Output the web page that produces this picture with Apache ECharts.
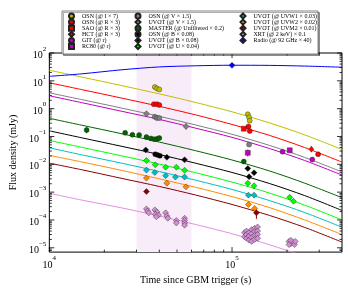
<!DOCTYPE html>
<html><head><meta charset="utf-8">
<script src="https://cdn.jsdelivr.net/npm/echarts@6/dist/echarts.min.js"></script>
<style>html,body{margin:0;padding:0;background:#fff}#c{width:348px;height:290px}</style>
</head><body><div id="c"></div>
<script>
const FONT = '"Liberation Serif", "DejaVu Serif", serif';

// ---- model curves (time grid in s, flux in mJy) ----
const modelTime = [10000, 15000, 25000, 40000, 63000, 100000, 160000, 250000, 400000];
const modelI      = [24, 13.7, 6.7, 3.4, 1.68, 0.77, 0.31, 0.114, 0.034];
const modelR      = [8.5, 4.86, 2.38, 1.21, 0.60, 0.27, 0.11, 0.040, 0.012];
const modelV      = [3.7, 2.12, 1.04, 0.53, 0.26, 0.12, 0.048, 0.0177, 0.0053];
const modelr      = [2.9, 1.65, 0.80, 0.41, 0.20, 0.093, 0.037, 0.0137, 0.0041];
const modelUnf    = [0.45, 0.255, 0.125, 0.063, 0.031, 0.0143, 0.0058, 0.0021, 0.00063];
const modelB      = [0.16, 0.090, 0.044, 0.0225, 0.011, 0.0051, 0.00205, 0.00075, 0.00022];
const modelU      = [0.072, 0.041, 0.020, 0.0102, 0.0050, 0.0023, 0.00093, 0.00034, 0.0001];
const modelUVW1   = [0.039, 0.022, 0.0109, 0.0055, 0.0027, 0.00125, 0.0005, 0.000185, 0.000055];
const modelUVW2   = [0.021, 0.0122, 0.006, 0.003, 0.0015, 0.00069, 0.00028, 0.0001, 0.00003];
const modelUVM2   = [0.011, 0.0064, 0.0031, 0.0016, 0.00079, 0.00036, 0.000146, 0.000054, 0.000016];
const modelXRT    = [9.1e-4, 5.2e-4, 2.7e-4, 1.38e-4, 6.9e-5, 3.2e-5, 1.29e-5, 4.9e-6, 1.66e-6];
const modelRadio  = [14.5, 17.8, 25, 31.6, 34.7, 36.3, 35.9, 33.9, 30.9];

// ---- observed points [time s, flux mJy] ----
const osnI   = [[37800,6.0],[38800,5.3],[40000,4.9],[122000,0.63],[124000,0.49],[125000,0.37]];
const osnR   = [[37300,1.45],[38800,1.45],[40000,1.35],[123000,0.23],[125000,0.156],[296000,0.023]];
const saoR   = [[116000,0.19]];
const hctR   = [[272000,0.035]];
const gitr   = [[189000,0.0285],[275000,0.0148]];
const rc80r  = [[122000,0.026],[207000,0.032]];
const osnV   = [[37800,0.51],[38800,0.46],[40000,0.46],[124000,0.051]];
const uvotV  = [[34000,0.66],[56000,0.23]];
const master = [[16000,0.17],[26000,0.135],[28500,0.115],[31000,0.113],[34000,0.095],[36000,0.085],[37500,0.08],[39000,0.083],[40000,0.088],[116000,0.0126]];
const osnB   = [[38000,0.023],[39200,0.0214],[40300,0.0202]];
const uvotB  = [[33700,0.033],[44000,0.0178],[55000,0.0145],[122000,0.0071],[132000,0.005],[124000,0.0036]];
const uvotU  = [[34000,0.0136],[38000,0.0096],[43300,0.0079],[49600,0.0079],[55000,0.0061],[122000,0.0021],[132000,0.0017],[207000,0.00065],[217000,0.00047]];
const uvw1   = [[34000,0.0062],[37800,0.0051],[43300,0.0039],[49000,0.0035],[55000,0.0035],[123000,0.00078],[132000,0.00078]];
const uvw2   = [[34000,0.0032],[44000,0.0021],[56000,0.00155],[123000,0.00036],[133000,0.00026]];
const uvm2   = [[34000,0.00105],[136000,0.00018]];
const xrt    = [[34000,2.5e-4],[34500,2.1e-4],[35000,1.8e-4],
  [37800,2.3e-4],[38800,1.95e-4],[38000,1.6e-4],[39600,1.5e-4],[38500,1.3e-4],
  [43300,1.8e-4],[44000,1.4e-4],[44500,1.15e-4],
  [49600,9.5e-5],[49600,7.8e-5],
  [55000,1.15e-4],[55000,9.5e-5],[55000,7.8e-5],[55000,6.5e-5],
  [117000,3.5e-5],[117000,2.5e-5],[120000,4e-5],[120000,3e-5],[120000,2.2e-5],
  [124000,3.5e-5],[124000,2.6e-5],[124000,1.9e-5],[128000,4.5e-5],[128000,3.2e-5],
  [128000,2.3e-5],[128000,1.7e-5],[133000,5e-5],[133000,3.8e-5],[133000,2.8e-5],
  [133000,2e-5],[138000,5.6e-5],[138000,4e-5],[138000,3e-5],[138000,2.2e-5],
  [205000,1.7e-5],[210000,1.4e-5],[215000,1.6e-5],[220000,1.3e-5],[210000,1.85e-5],[222000,1.7e-5],[205000,1.3e-5]];
const radio  = [[100000,36]];

// error bars [time, low, high, color]
const errBars = [[16000,0.13,0.22,'#006400'],[56000,0.18,0.30,'#808080'],[124000,0.042,0.064,'#808080'],
  [122000,0.019,0.034,'#bf00bf'],[136000,0.00011,0.00024,'#8b0000'],[272000,0.029,0.043,'#ff0000'],
  [275000,0.012,0.018,'#bf00bf'],[116000,0.0105,0.015,'#006400']];

// ticks
const xMajor = [1e4, 1e5];
const xMinor = [2e4,3e4,4e4,5e4,6e4,7e4,8e4,9e4,2e5,3e5];
const yDecades = [-6,-5,-4,-3,-2,-1,0,1,2];
const mantissas = [2,3,4,5,6,7,8,9];
const xMin = 1e4, xMax = 4e5, yMin = 7e-6, yMax = 100;
const yMajor = yDecades.map(d => Math.pow(10,d)).filter(v => v >= yMin && v <= yMax);
const yMinor = [];
yDecades.forEach(d => mantissas.forEach(m => { const v = m*Math.pow(10,d); if (v > yMin && v < yMax) yMinor.push(v); }));

const bandStart = 30000, bandEnd = 60000;

function zip(t, v){ return t.map((x,i)=>[x, v[i]]); }

const chart = echarts.init(document.getElementById('c'), null, {renderer:'canvas'});

const sup = v => {
  const e = Math.round(Math.log10(v));
  return '{b|10}{s|' + (e < 0 ? '\u2212' + (-e) : e) + '}';
};
const rich = {
  b: {fontFamily: FONT, fontSize: 10, lineHeight: 15, verticalAlign: 'bottom', color:'#000'},
  s: {fontFamily: FONT, fontSize: 7, lineHeight: 8, verticalAlign: 'top', color:'#000'}
};

function lineSeries(name, data, color){
  return {name, type:'line', data: zip(modelTime, data), showSymbol:false, smooth:0.3,
    lineStyle:{color, width:1}, itemStyle:{color}, z:2, silent:true};
}
function pts(name, data, color, symbol, size){
  return {name, type:'scatter', data, symbol, symbolSize:size, z:5,
    itemStyle:{color, borderColor:'#222', borderWidth:0.4, opacity:1}};
}
function tickSeries(data, dim, len){
  return {type:'custom', silent:true, z:10, data: data.map(v => dim==='x' ? [v, 1] : [20000, v]),
    renderItem: function(params, api){
      const cs = params.coordSys;
      const st = {stroke:'#000', lineWidth:0.8};
      if (dim === 'x') {
        const px = api.coord([api.value(0), 1])[0];
        return {type:'group', children:[
          {type:'line', shape:{x1:px, y1:cs.y+cs.height, x2:px, y2:cs.y+cs.height-len}, style:st},
          {type:'line', shape:{x1:px, y1:cs.y, x2:px, y2:cs.y+len}, style:st}]};
      } else {
        const py = api.coord([20000, api.value(1)])[1];
        return {type:'group', children:[
          {type:'line', shape:{x1:cs.x, y1:py, x2:cs.x+len, y2:py}, style:st},
          {type:'line', shape:{x1:cs.x+cs.width, y1:py, x2:cs.x+cs.width-len, y2:py}, style:st}]};
      }
    }};
}

const series = [
  {type:'line', data:[], silent:true, z:0,
   markArea:{silent:true, itemStyle:{color:'#f8ecf8'}, data:[[{xAxis:bandStart},{xAxis:bandEnd}]]}},
  lineSeries('mI', modelI, '#bfbf00'),
  lineSeries('mR', modelR, '#ff0000'),
  lineSeries('mV', modelV, '#808080'),
  lineSeries('mr', modelr, '#bf00bf'),
  lineSeries('mUnf', modelUnf, '#006400'),
  lineSeries('mB', modelB, '#000000'),
  lineSeries('mU', modelU, '#00ff00'),
  lineSeries('mW1', modelUVW1, '#00bfbf'),
  lineSeries('mW2', modelUVW2, '#ff8c00'),
  lineSeries('mM2', modelUVM2, '#8b0000'),
  lineSeries('mX', modelXRT, '#e38ee3'),
  lineSeries('mRadio', modelRadio, '#0000ff'),
  {type:'custom', silent:true, z:4, data: errBars,
   renderItem: function(params, api){
     const p1 = api.coord([api.value(0), api.value(1)]);
     const p2 = api.coord([api.value(0), api.value(2)]);
     return {type:'line', shape:{x1:p1[0], y1:p1[1], x2:p2[0], y2:p2[1]},
       style:{stroke: errBars[params.dataIndex][3], lineWidth:1}};
   }},
  pts('OSN (@ I \u00d7 7)', osnI, '#bfbf00', 'circle', 5),
  pts('OSN (@ R \u00d7 3)', osnR, '#ff0000', 'circle', 5),
  pts('SAO (@ R \u00d7 3)', saoR, '#ff0000', 'rect', 5),
  pts('HCT (@ R \u00d7 3)', hctR, '#ff0000', 'diamond', [5,6]),
  pts('GIT (@ r)', gitr, '#bf00bf', 'circle', 5),
  pts('RC80 (@ r)', rc80r, '#bf00bf', 'rect', 5),
  pts('OSN (@ V \u00d7 1.5)', osnV, '#808080', 'circle', 5),
  pts('UVOT (@ V \u00d7 1.5)', uvotV, '#808080', 'diamond', 6),
  pts('MASTER (@ Unfiltered \u00d7 0.2)', master, '#006400', 'circle', 5),
  pts('OSN (@ B \u00d7 0.08)', osnB, '#000000', 'circle', 5),
  pts('UVOT (@ B \u00d7 0.08)', uvotB, '#000000', 'diamond', 6),
  pts('UVOT (@ U \u00d7 0.04)', uvotU, '#00ff00', 'diamond', 6),
  pts('UVOT (@ UVW1 \u00d7 0.03)', uvw1, '#00bfbf', 'diamond', 6),
  pts('UVOT (@ UVW2 \u00d7 0.02)', uvw2, '#ff8c00', 'diamond', 6),
  pts('UVOT (@ UVM2 \u00d7 0.01)', uvm2, '#8b0000', 'diamond', 6),
  pts('XRT (@ 2 keV) \u00d7 0.1', xrt, '#d08fd0', 'diamond', 6),
  pts('Radio (@ 92 GHz \u00d7 40)', radio, '#0000ff', 'diamond', 6),
  tickSeries(xMajor, 'x', 5), tickSeries(xMinor, 'x', 2.5),
  tickSeries(yMajor, 'y', 5), tickSeries(yMinor, 'y', 2.5)
];

const legCommon = {orient:'vertical', padding:0, itemWidth:5, itemHeight:5, itemGap:-0.9, z:20,
  selectedMode:false, textStyle:{fontFamily:FONT, fontSize:6, lineHeight:7, color:'#000', padding:[0,0,0,3]}};
const col1 = ['OSN (@ I \u00d7 7)','OSN (@ R \u00d7 3)','SAO (@ R \u00d7 3)','HCT (@ R \u00d7 3)','GIT (@ r)','RC80 (@ r)'];
const col2 = ['OSN (@ V \u00d7 1.5)','UVOT (@ V \u00d7 1.5)','MASTER (@ Unfiltered \u00d7 0.2)','OSN (@ B \u00d7 0.08)','UVOT (@ B \u00d7 0.08)','UVOT (@ U \u00d7 0.04)'];
const col3 = ['UVOT (@ UVW1 \u00d7 0.03)','UVOT (@ UVW2 \u00d7 0.02)','UVOT (@ UVM2 \u00d7 0.01)','XRT (@ 2 keV) \u00d7 0.1','Radio (@ 92 GHz \u00d7 40)'];

chart.setOption({
  animation:false,
  backgroundColor:'#fff',
  grid:{left:41, right:6, top:53, bottom:30, show:true, borderColor:'#000', borderWidth:1, backgroundColor:'transparent'},
  xAxis:{type:'log', logBase:10, min:xMin, max:xMax,
    name:'Time since GBM trigger (s)', nameLocation:'middle', nameGap:15,
    nameTextStyle:{fontFamily:FONT, fontSize:10, color:'#000'},
    axisLine:{show:false}, axisTick:{show:false}, splitLine:{show:false},
    axisLabel:{showMinLabel:true, showMaxLabel:false, margin:3, formatter: v => sup(v), rich}},
  yAxis:{type:'log', logBase:10, min:yMin, max:yMax, splitNumber:7,
    name:'Flux density (mJy)', nameLocation:'middle', nameGap:25, nameRotate:90,
    nameTextStyle:{fontFamily:FONT, fontSize:10, color:'#000'},
    axisLine:{show:false}, axisTick:{show:false}, splitLine:{show:false},
    axisLabel:{showMinLabel:false, showMaxLabel:true, margin:3, formatter: v => sup(v), rich}},
  legend:[
    Object.assign({}, legCommon, {data:col1, left:68, top:12.5}),
    Object.assign({}, legCommon, {data:col2, left:134.5, top:12.5}),
    Object.assign({}, legCommon, {data:col3, left:239.5, top:12.5})
  ],
  graphic:[{type:'rect', z:15, shape:{x:62, y:11, width:256, height:43},
    style:{fill:'#fff', stroke:'#666', lineWidth:0.8, shadowColor:'rgba(0,0,0,0.4)', shadowOffsetX:1.5, shadowOffsetY:1.5, shadowBlur:0}}],
  series
});
</script></body></html>
